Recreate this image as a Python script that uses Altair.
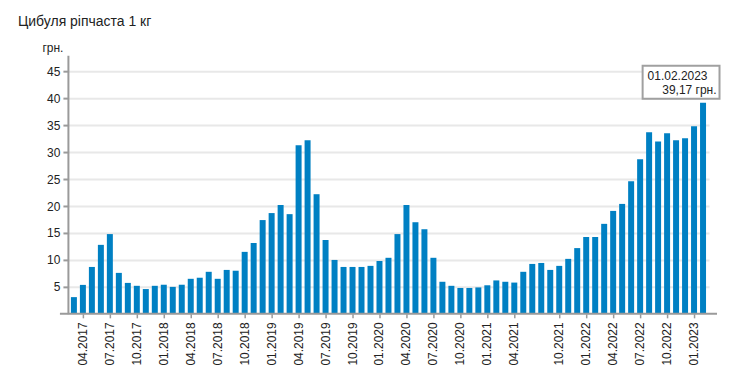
import altair as alt
import pandas as pd

months = [
    "03.2017", "04.2017", "05.2017", "06.2017", "07.2017", "08.2017", "09.2017", "10.2017", "11.2017", "12.2017",
    "01.2018", "02.2018", "03.2018", "04.2018", "05.2018", "06.2018", "07.2018", "08.2018", "09.2018", "10.2018", "11.2018", "12.2018",
    "01.2019", "02.2019", "03.2019", "04.2019", "05.2019", "06.2019", "07.2019", "08.2019", "09.2019", "10.2019", "11.2019", "12.2019",
    "01.2020", "02.2020", "03.2020", "04.2020", "05.2020", "06.2020", "07.2020", "08.2020", "09.2020", "10.2020", "11.2020", "12.2020",
    "01.2021", "02.2021", "03.2021", "04.2021", "05.2021", "06.2021", "08.2021", "09.2021", "10.2021", "11.2021", "12.2021",
    "01.2022", "02.2022", "03.2022", "04.2022", "05.2022", "06.2022", "07.2022", "08.2022", "09.2022", "10.2022", "11.2022", "12.2022",
    "01.2023", "02.2023",
]
prices = [
    3.1, 5.37, 8.7, 12.8, 14.8, 7.6, 5.74, 5.2, 4.6, 5.2,
    5.4, 5.0, 5.4, 6.5, 6.7, 7.8, 6.5, 8.15, 8.0, 11.5, 13.15, 17.4,
    18.7, 20.2, 18.5, 31.3, 32.2, 22.2, 13.7, 10.0, 8.7, 8.7, 8.7, 8.9,
    9.8, 10.4, 14.8, 20.2, 17.0, 15.7, 10.4, 5.95, 5.2, 4.8, 4.8, 4.9,
    5.3, 6.2, 5.95, 5.8, 7.8, 9.26, 9.44, 8.15, 8.9, 10.2, 12.2,
    14.26, 14.26, 16.7, 19.1, 20.4, 24.6, 28.7, 33.7, 32.0, 33.5, 32.2, 32.6,
    34.8, 39.17,
]
tick_months = [m for m in months if m[:2] in ("01", "04", "07", "10")]
y_ticks = [5, 10, 15, 20, 25, 30, 35, 40, 45]

tip_date = "01.02.2023"
tip_value = f"{prices[-1]:.2f}".replace(".", ",") + " грн."

FONT = "Liberation Sans"
BAR = "#0080c3"
AXIS = "#9a9a9a"

df = pd.DataFrame({"month": months, "price": prices})
last = pd.DataFrame({"month": [months[-1]], "price": [prices[-1]],
                     "d": [tip_date], "v": [tip_value]})

x_scale = alt.Scale(domain=months, paddingInner=0, paddingOuter=1 / 6)
y_scale = alt.Scale(domain=[0, 48], nice=False)

x_axis = alt.Axis(values=tick_months, title=None, labelAngle=270, labelFont=FONT,
                  labelFontSize=12, labelColor="#222", labelPadding=4, tickSize=4,
                  tickColor=AXIS, tickWidth=1.5, domain=False, grid=False, labelOverlap=False)
y_axis = alt.Axis(values=y_ticks, title="грн.", titleAngle=0, titleAlign="left",
                  titleBaseline="middle", titleX=-26, titleY=-8, titleFont=FONT,
                  titleFontSize=12, titleFontWeight="normal", titleColor="#222",
                  labelFont=FONT, labelFontSize=12, labelColor="#222", labelPadding=3,
                  tickSize=5, tickColor=AXIS, tickWidth=2, domainColor=AXIS, domainWidth=2,
                  gridColor="#e8e8e8", gridWidth=2)

X = alt.X("month:N", sort=None, scale=x_scale, axis=x_axis)
Y = alt.Y("price:Q", scale=y_scale, axis=y_axis)

bars = alt.Chart(df).mark_bar(size=6, color=BAR).encode(x=X, y=Y)

xline = alt.Chart(pd.DataFrame({"price": [0]})).mark_rule(color=AXIS, strokeWidth=2).encode(
    x=alt.value(-8), x2=alt.value(650), y=Y
)

box = alt.Chart(last).mark_bar(width=77, xOffset=-22, yOffset=-4, y2Offset=-37,
                               fill="white", stroke="#a0a0a0", strokeWidth=2).encode(
    x=X, y=Y, y2="price:Q",
)
t1 = alt.Chart(last).mark_text(align="left", baseline="middle", dx=-55.5, dy=-27,
                               font=FONT, fontSize=12, color="#222").encode(
    x=X, y=Y, text="d:N",
)
t2 = alt.Chart(last).mark_text(align="right", baseline="middle", dx=13.5, dy=-13,
                               font=FONT, fontSize=12, color="#222").encode(
    x=X, y=Y, text="v:N",
)

chart = alt.layer(bars, xline, box, t1, t2).properties(
    width=642, height=259,
    autosize=alt.AutoSizeParams(type="none"),
    padding={"left": 60, "top": 47, "right": 20, "bottom": 60},
    title=alt.TitleParams("Цибуля ріпчаста 1 кг", anchor="start", frame="group", dx=-50,
                          fontSize=14, font=FONT, fontWeight="normal", color="#222", offset=12),
).configure_view(stroke=None)

chart.save("out.html", embed_options={"renderer": "svg", "actions": False})
